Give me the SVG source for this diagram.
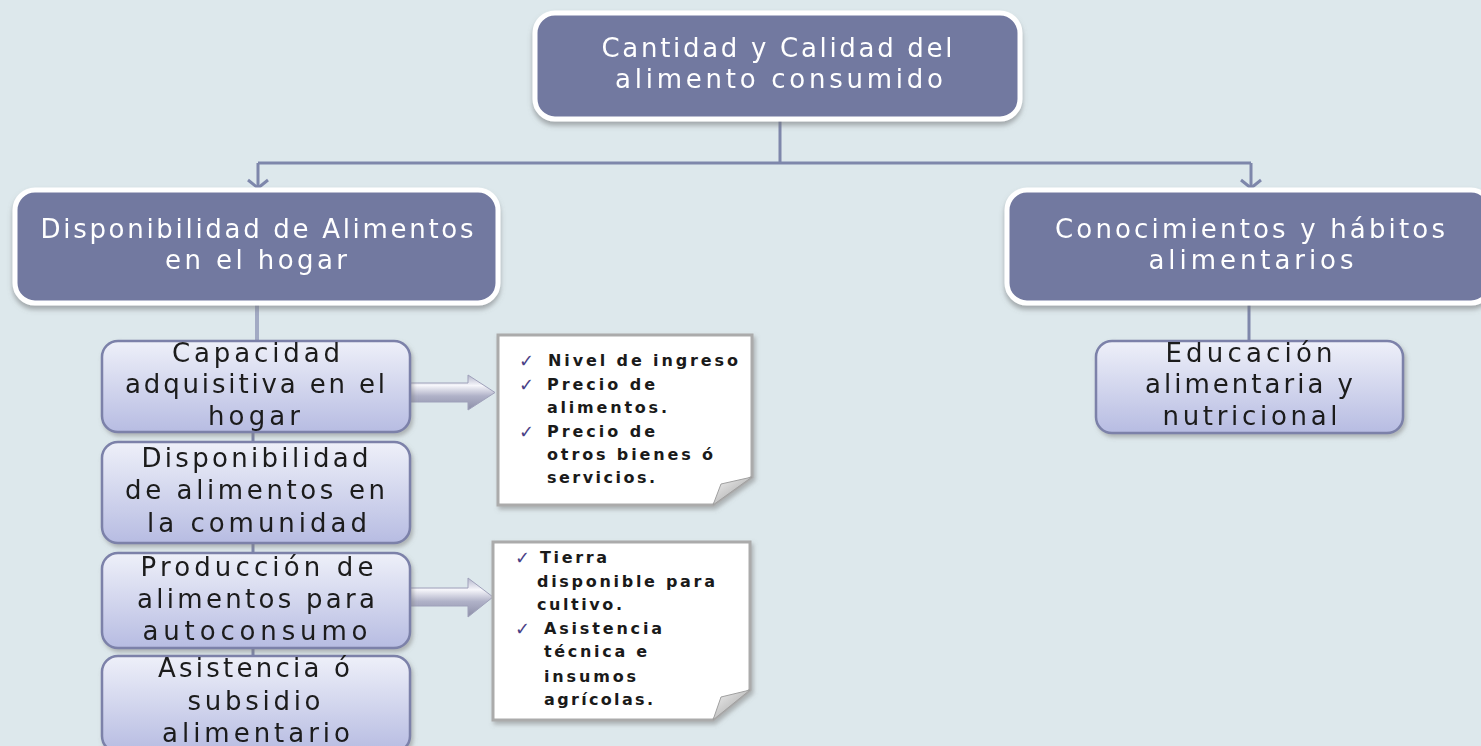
<svg xmlns="http://www.w3.org/2000/svg" width="1481" height="746" viewBox="0 0 1481 746">
<defs>
<style>
.dark{fill:#7279a0;stroke:#ffffff;stroke-width:5}
.light{fill:url(#lg);stroke:#7b81a9;stroke-width:2.5}
.wt{font-family:"DejaVu Sans",Verdana,sans-serif;font-size:26px;fill:#ffffff;text-anchor:middle}
.bt{font-family:"DejaVu Sans",Verdana,sans-serif;font-size:26px;fill:#1a1a1a;text-anchor:middle}
.nt{font-family:"DejaVu Sans",Verdana,sans-serif;font-size:16px;font-weight:bold;fill:#1a1a1a}
.ck{font-family:"DejaVu Sans",sans-serif;font-size:18px;fill:#4a3f86}
.con{stroke:#7e87ab;stroke-width:3;fill:none}
.note{fill:#ffffff;stroke:#ababab;stroke-width:3}
.barrow{fill:url(#ag);stroke:#9fa1ba;stroke-width:1}
</style>
<linearGradient id="lg" x1="0" y1="0" x2="0" y2="1">
<stop offset="0" stop-color="#eef0f9"/>
<stop offset="1" stop-color="#b7bce2"/>
</linearGradient>
<linearGradient id="ag" x1="0" y1="0" x2="0" y2="1">
<stop offset="0" stop-color="#b4b6cc"/>
<stop offset="0.3" stop-color="#f6f6fb"/>
<stop offset="0.6" stop-color="#b0b2c8"/>
<stop offset="1" stop-color="#8c8ea8"/>
</linearGradient>
<linearGradient id="fg" x1="0" y1="0" x2="1" y2="1">
<stop offset="0" stop-color="#f2f2f2"/>
<stop offset="1" stop-color="#9c9c9c"/>
</linearGradient>
<filter id="sh" x="-10%" y="-10%" width="120%" height="130%">
<feDropShadow dx="0" dy="4" stdDeviation="2.5" flood-color="#6f7276" flood-opacity="0.55"/>
</filter>
<filter id="sh2" x="-10%" y="-10%" width="120%" height="130%">
<feDropShadow dx="2" dy="3" stdDeviation="2" flood-color="#7a7a7a" flood-opacity="0.5"/>
</filter>
<marker id="chev" viewBox="-12 -12 14 24" refX="0" refY="0" markerWidth="14" markerHeight="24" markerUnits="userSpaceOnUse" orient="auto">
<path d="M-8,-10 L0,0 L-8,10" fill="none" stroke="#7e87ab" stroke-width="3"/>
</marker>
</defs>
<rect x="0" y="0" width="1481" height="746" fill="#dde8ec"/>

<g id="connectors">
<path class="con" d="M780,120 V163"/>
<path class="con" d="M258,163 H1251"/>
<path class="con" d="M258,163 V188" marker-end="url(#chev)"/>
<path class="con" d="M1251,163 V188" marker-end="url(#chev)"/>
<path d="M257,303 V341" stroke="#a2aac4" stroke-width="4"/>
<path class="con" d="M1249,303 V341"/>
<path class="con" d="M253,432 V442"/>
<path class="con" d="M253,543 V553"/>
<path class="con" d="M253,648 V656"/>
<path class="barrow" d="M410,383 L468,383 L468,375 L495,392.5 L468,410 L468,402 L410,402 Z"/>
<path class="barrow" d="M410,588 L468,588 L468,578 L493,597 L468,617 L468,606 L410,606 Z"/>
</g>

<g id="n-top" filter="url(#sh)">
<rect class="dark" x="535" y="13" width="485" height="106" rx="20"/>
<text class="wt" x="777" y="57" textLength="351" lengthAdjust="spacing">Cantidad y Calidad del</text>
<text class="wt" x="779" y="88" textLength="328" lengthAdjust="spacing">alimento consumido</text>
</g>

<g id="n-disp" filter="url(#sh)">
<rect class="dark" x="15" y="190" width="483" height="113" rx="20"/>
<text class="wt" x="257" y="238" textLength="433" lengthAdjust="spacing">Disponibilidad de Alimentos</text>
<text class="wt" x="256" y="269" textLength="182" lengthAdjust="spacing">en el hogar</text>
</g>

<g id="n-con" filter="url(#sh)">
<rect class="dark" x="1007" y="190" width="484" height="113" rx="20"/>
<text class="wt" x="1250" y="238" textLength="390" lengthAdjust="spacing">Conocimientos y hábitos</text>
<text class="wt" x="1251" y="269" textLength="205" lengthAdjust="spacing">alimentarios</text>
</g>

<g id="n-cap" filter="url(#sh2)">
<rect class="light" x="102" y="341" width="308" height="91" rx="16"/>
<text class="bt" x="256" y="362" textLength="168" lengthAdjust="spacing">Capacidad</text>
<text class="bt" x="255" y="393" textLength="260" lengthAdjust="spacing">adquisitiva en el</text>
<text class="bt" x="254" y="425" textLength="92" lengthAdjust="spacing">hogar</text>
</g>

<g id="n-dcom" filter="url(#sh2)">
<rect class="light" x="102" y="442" width="308" height="101" rx="16"/>
<text class="bt" x="255" y="467" textLength="227" lengthAdjust="spacing">Disponibilidad</text>
<text class="bt" x="255" y="499" textLength="260" lengthAdjust="spacing">de alimentos en</text>
<text class="bt" x="257" y="532" textLength="220" lengthAdjust="spacing">la comunidad</text>
</g>

<g id="n-prod" filter="url(#sh2)">
<rect class="light" x="102" y="553" width="308" height="95" rx="16"/>
<text class="bt" x="257" y="576" textLength="233" lengthAdjust="spacing">Producción de</text>
<text class="bt" x="256" y="608" textLength="238" lengthAdjust="spacing">alimentos para</text>
<text class="bt" x="255" y="640" textLength="225" lengthAdjust="spacing">autoconsumo</text>
</g>

<g id="n-asis" filter="url(#sh2)">
<rect class="light" x="102" y="656" width="308" height="96" rx="16"/>
<text class="bt" x="254" y="677" textLength="192" lengthAdjust="spacing">Asistencia ó</text>
<text class="bt" x="254" y="710" textLength="133" lengthAdjust="spacing">subsidio</text>
<text class="bt" x="256" y="742" textLength="188" lengthAdjust="spacing">alimentario</text>
</g>

<g id="n-edu" filter="url(#sh2)">
<rect class="light" x="1096" y="341" width="307" height="92" rx="16"/>
<text class="bt" x="1249" y="362" textLength="167" lengthAdjust="spacing">Educación</text>
<text class="bt" x="1249" y="393" textLength="208" lengthAdjust="spacing">alimentaria y</text>
<text class="bt" x="1250" y="425" textLength="175" lengthAdjust="spacing">nutricional</text>
</g>

<g id="note1">
<path class="note" filter="url(#sh2)" d="M498,335 H752 V477 L713,505 H498 Z"/>
<path d="M752,477 L713,505 L721,484 Z" fill="url(#fg)" stroke="#a0a0a0" stroke-width="1"/>
<text class="ck" x="519" y="367">✓</text>
<text class="nt" x="548" y="366" textLength="190" lengthAdjust="spacing">Nivel de ingreso</text>
<text class="ck" x="519" y="391">✓</text>
<text class="nt" x="547" y="390" textLength="108" lengthAdjust="spacing">Precio de</text>
<text class="nt" x="547" y="413" textLength="120" lengthAdjust="spacing">alimentos.</text>
<text class="ck" x="519" y="438">✓</text>
<text class="nt" x="547" y="437" textLength="108" lengthAdjust="spacing">Precio de</text>
<text class="nt" x="547" y="460" textLength="166" lengthAdjust="spacing">otros bienes ó</text>
<text class="nt" x="547" y="483" textLength="108" lengthAdjust="spacing">servicios.</text>
</g>

<g id="note2">
<path class="note" filter="url(#sh2)" d="M493,542 H750 V690 L713,720 H493 Z"/>
<path d="M750,690 L713,720 L721,697 Z" fill="url(#fg)" stroke="#a0a0a0" stroke-width="1"/>
<text class="ck" x="515" y="564">✓</text>
<text class="nt" x="540" y="563" textLength="67" lengthAdjust="spacing">Tierra</text>
<text class="nt" x="537" y="587" textLength="178" lengthAdjust="spacing">disponible para</text>
<text class="nt" x="537" y="610" textLength="85" lengthAdjust="spacing">cultivo.</text>
<text class="ck" x="515" y="635">✓</text>
<text class="nt" x="544" y="634" textLength="118" lengthAdjust="spacing">Asistencia</text>
<text class="nt" x="544" y="657" textLength="103" lengthAdjust="spacing">técnica e</text>
<text class="nt" x="544" y="682" textLength="92" lengthAdjust="spacing">insumos</text>
<text class="nt" x="544" y="705" textLength="109" lengthAdjust="spacing">agrícolas.</text>
</g>
</svg>
